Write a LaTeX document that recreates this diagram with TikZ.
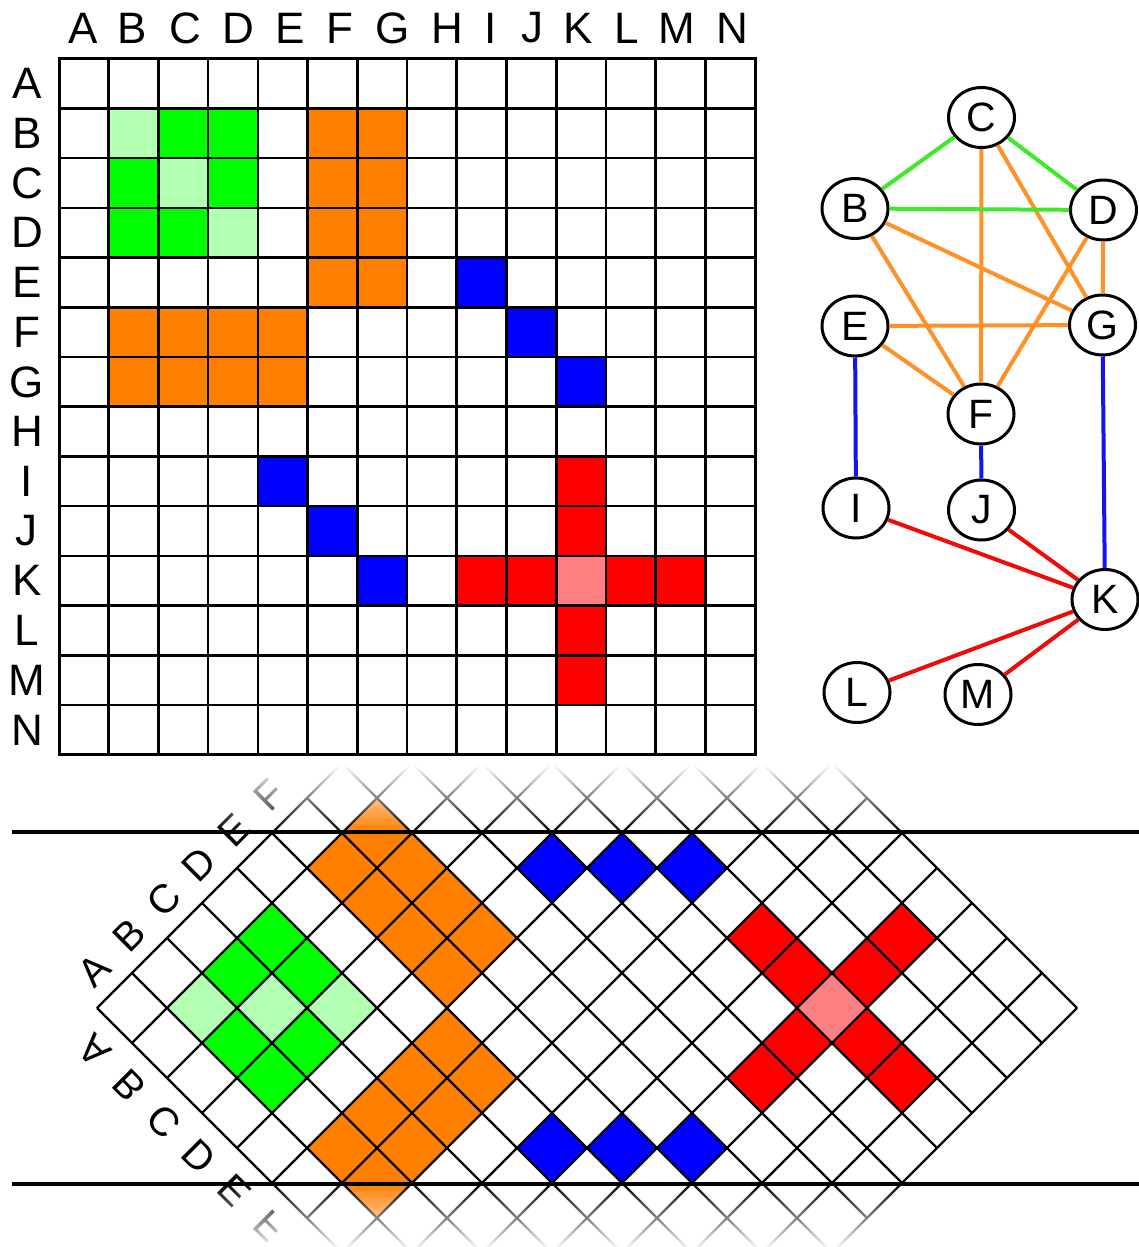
\documentclass[tikz,border=0pt]{standalone}
\usepackage{fontspec}
\setmainfont{Liberation Sans}
\usetikzlibrary{shapes.geometric}
\definecolor{cgreen}{RGB}{0,255,0}
\definecolor{clgreen}{RGB}{179,255,179}
\definecolor{corange}{RGB}{255,128,0}
\definecolor{cblue}{RGB}{0,0,255}
\definecolor{cred}{RGB}{255,0,0}
\definecolor{clred}{RGB}{255,128,128}
\definecolor{egreen}{RGB}{60,235,40}
\definecolor{eorange}{RGB}{255,145,40}
\definecolor{eblue}{RGB}{20,20,240}
\definecolor{ered}{RGB}{240,10,10}
\tikzset{
  mgrid/.style={line width=2.6pt, black},
  rgrid/.style={line width=2.4pt, black},
  biglabel/.style={font=\fontsize{44}{44}\selectfont, inner sep=0pt},
  difflabel/.style={font=\fontsize{40}{40}\selectfont, inner sep=0pt},
  gnode/.style={ellipse, draw, line width=3pt, fill=white, minimum width=66pt, minimum height=60pt, inner sep=0pt, font=\fontsize{41}{41}\selectfont},
  gedge/.style={line width=4pt},
  bandline/.style={line width=3.2pt, black},
}
\begin{document}
\begin{tikzpicture}[x=1pt,y=-1pt]
\useasboundingbox[fill=white] (0,0) rectangle (1139,1247);
\def\mx{59}\def\my{58.7}\def\ms{49.72}
% ---------- matrix fills ----------
\foreach \r/\c/\col in {1/1/clgreen,2/2/clgreen,3/3/clgreen,1/2/cgreen,1/3/cgreen,2/3/cgreen,
  1/5/corange,1/6/corange,2/5/corange,2/6/corange,3/5/corange,3/6/corange,4/5/corange,4/6/corange,
  4/8/cblue,5/9/cblue,6/10/cblue,
  8/10/cred,9/10/cred,10/11/cred,10/12/cred,10/10/clred} {
  \fill[\col] ({\mx+\c*\ms},{\my+\r*\ms}) rectangle ++(\ms,\ms);
  \fill[\col] ({\mx+\r*\ms},{\my+\c*\ms}) rectangle ++(\ms,\ms);
}
% ---------- matrix grid ----------
\foreach \k in {1,...,13} {
  \draw[mgrid] ({\mx+\k*\ms},\my) -- ({\mx+\k*\ms},{\my+14*\ms});
  \draw[mgrid] (\mx,{\my+\k*\ms}) -- ({\mx+14*\ms},{\my+\k*\ms});
}
\draw[line width=3pt, line join=miter] (\mx,\my) rectangle ({\mx+14*\ms},{\my+14*\ms});
% ---------- matrix labels ----------
\foreach \t/\x in {A/83,B/132,C/185,D/238,E/290,F/340,G/393,H/447,I/491,J/532,K/578,L/627,M/677,N/732}
  \node[biglabel] (col\t) at (\x,28) {\t};
\foreach \t [count=\i from 0] in {A,B,C,D,E,F,G,H,I,J,K,L,M,N}
  \node[biglabel] (row\t) at (27,{\my+(\i+0.5)*\ms}) {\t};
% ---------- graph ----------
\node[gnode] (C) at (981.5,117.5) {C};
\node[gnode] (B) at (855,208.5) {B};
\node[gnode] (D) at (1103.5,210) {D};
\node[gnode] (E) at (855,326) {E};
\node[gnode] (G) at (1102.5,325) {G};
\node[gnode] (F) at (981,414) {F};
\node[gnode] (I) at (856,508) {I};
\node[gnode] (J) at (981.5,510) {J};
\node[gnode] (K) at (1105,599.5) {K};
\node[gnode] (L) at (857,692.5) {L};
\node[gnode] (M) at (978,694.5) {M};
\foreach \a/\b in {C/F,C/G,B/G,B/F,D/F,D/G,E/G,E/F}
  \draw[gedge, eorange] (\a) -- (\b);
\foreach \a/\b in {C/B,C/D,B/D}
  \draw[gedge, egreen] (\a) -- (\b);
\foreach \a/\b in {E/I,F/J,G/K}
  \draw[gedge, eblue] (\a) -- (\b);
\foreach \a/\b in {K/I,K/J,K/L,K/M}
  \draw[gedge, ered] (\a) -- (\b);
% ---------- rotated matrix ----------
\begin{scope}
\clip (0,764) rectangle (1139,1252);
\foreach \r/\c/\col in {1/1/clgreen,2/2/clgreen,3/3/clgreen,1/2/cgreen,1/3/cgreen,2/3/cgreen,
  1/5/corange,1/6/corange,2/5/corange,2/6/corange,3/5/corange,3/6/corange,4/5/corange,4/6/corange,
  4/8/cblue,5/9/cblue,6/10/cblue,
  8/10/cred,9/10/cred,10/11/cred,10/12/cred,10/10/clred} {
  \fill[\col] ({97+35*(\r+\c)},{1008+35*(\r-\c)}) -- ++(35,-35) -- ++(35,35) -- ++(-35,35) -- cycle;
  \fill[\col] ({97+35*(\r+\c)},{1008+35*(\c-\r)}) -- ++(35,-35) -- ++(35,35) -- ++(-35,35) -- cycle;
}
\foreach \k in {0,...,14} {
  \draw[rgrid] ({97+35*\k},{1008+35*\k}) -- ({97+35*(\k+14)},{1008+35*(\k-14)});
  \draw[rgrid] ({97+35*\k},{1008-35*\k}) -- ({97+35*(14+\k)},{1008+35*(14-\k)});
}
\end{scope}
\foreach \t [count=\j from 0] in {A,B,C,D,E,F} {
  \node[difflabel, rotate=45] (u\t) at ({94+35*\j},{970-35*\j}) {\t};
  \node[difflabel, rotate=-45, yscale=-1] (l\t) at ({94+35*\j},{1051+35*\j}) {\t};
}
% ---------- fades ----------
\foreach \k in {1,...,34} {
  \pgfmathsetmacro\op{\k/34}
  \fill[white, fill opacity=\op] (0,{832-2*\k}) rectangle (1139,{834-2*\k});
  \fill[white, fill opacity=\op] (0,{1184+2*(\k-1)}) rectangle (1139,{1184+2*\k});
}
% ---------- band lines ----------
\coordinate (t0) at (12,832);
\coordinate (t1) at (1139,832);
\coordinate (b0) at (12,1184);
\coordinate (b1) at (1139,1184);
\draw[bandline] (t0) -- (t1);
\draw[bandline] (b0) -- (b1);
\end{tikzpicture}
\end{document}
